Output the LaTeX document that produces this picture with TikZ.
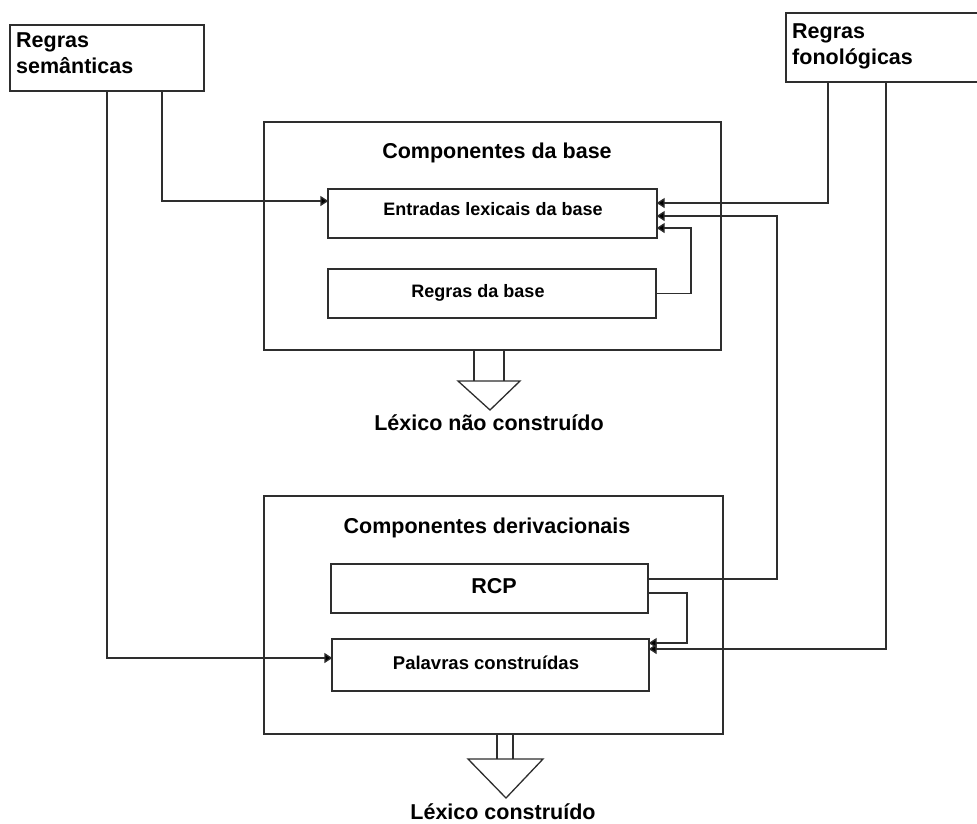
\documentclass[tikz,border=0pt]{standalone}
\usepackage{fontspec}
\setmainfont{Liberation Sans}
\usetikzlibrary{arrows.meta}

\definecolor{linecol}{HTML}{2E2E2E}

\tikzset{
  box/.style={draw=linecol, line width=1.3pt, rectangle, inner sep=0pt},
  bigtext/.style={font=\fontsize{21.5}{26}\selectfont\bfseries, inner sep=0pt},
  smalltext/.style={font=\fontsize{18}{22}\selectfont\bfseries, inner sep=0pt},
  link/.style={draw=linecol, line width=1.3pt},
  arr/.style={link, -{Triangle[length=8pt,width=10pt,fill=black]}, shorten >=-1pt},
  outarrow/.style={draw=linecol, line width=1.3pt, fill=white, line join=miter},
}

\begin{document}
\begin{tikzpicture}[x=1pt,y=-1pt]
  \useasboundingbox (0,0) rectangle (977,823);

  % side rule boxes
  \node[box, minimum width=194pt, minimum height=66pt] (sem) at (107,58) {};
  \node[bigtext, anchor=base west, align=left] (semT) at (16,73) {Regras\\semânticas};
  \node[box, minimum width=214pt, minimum height=69pt] (fon) at (893,47.5) {};
  \node[bigtext, anchor=base west, align=left] (fonT) at (792,64) {Regras\\fonológicas};

  % base component
  \node[box, minimum width=457pt, minimum height=228pt] (base) at (492.5,236) {};
  \node[bigtext, anchor=base] (baseT) at (497,158) {Componentes da base};
  \node[box, minimum width=329pt, minimum height=49pt] (ent) at (492.5,213.5) {};
  \node[smalltext, anchor=base] (entT) at (493,215) {Entradas lexicais da base};
  \node[box, minimum width=328pt, minimum height=49pt] (rbase) at (492,293.5) {};
  \node[smalltext, anchor=base] (rbaseT) at (478,297) {Regras da base};

  % derivational component
  \node[box, minimum width=459pt, minimum height=238pt] (deriv) at (493.5,615) {};
  \node[bigtext, anchor=base] (derivT) at (487,533) {Componentes derivacionais};
  \node[box, minimum width=317pt, minimum height=49pt] (rcp) at (489.5,588.5) {};
  \node[bigtext, anchor=base] (rcpT) at (494,593) {RCP};
  \node[box, minimum width=317pt, minimum height=52pt] (pal) at (490.5,665) {};
  \node[smalltext, anchor=base, font=\fontsize{18.5}{22}\selectfont\bfseries] (palT) at (486,669) {Palavras construídas};

  % output arrows and lexicon labels
  \coordinate (a1) at (474,381);
  \coordinate (a2) at (504,381);
  \draw[link] (base.south -| a1) -- (a1) (base.south -| a2) -- (a2);
  \draw[outarrow] (458,381) -- (520,381) -- (490,410) -- cycle;
  \node[bigtext, anchor=base] (lex1) at (489,430) {Léxico não construído};

  \coordinate (b1) at (497,759);
  \coordinate (b2) at (513,759);
  \draw[link] (deriv.south -| b1) -- (b1) (deriv.south -| b2) -- (b2);
  \draw[outarrow] (468,759) -- (543,759) -- (506,798) -- cycle;
  \node[bigtext, anchor=base] (lex2) at (503,819) {Léxico construído};

  % bend points of the connectors
  \coordinate (c1) at (162,201);
  \coordinate (c2) at (107,658);
  \coordinate (c3) at (828,203);
  \coordinate (c4) at (886,649);
  \coordinate (c5) at (691,228);
  \coordinate (c6) at (777,216);
  \coordinate (c6a) at (648,579);
  \coordinate (c7) at (687,643);
  \coordinate (c7a) at (648,593);

  % connectors
  \draw[arr] (sem.south -| c1) |- (ent.west |- c1);
  \draw[arr] (sem.south -| c2) |- (pal.west |- c2);
  \draw[arr] (fon.south -| c3) |- (ent.east |- c3);
  \draw[arr] (fon.south -| c4) |- (pal.east |- c4);
  \draw[arr] (rbase.east) -| (c5) -- (ent.east |- c5);
  \draw[arr] (rcp.east |- c6a) -| (c6) -- (ent.east |- c6);
  \draw[arr] (rcp.east |- c7a) -| (c7) -- (pal.east |- c7);
\end{tikzpicture}
\end{document}
